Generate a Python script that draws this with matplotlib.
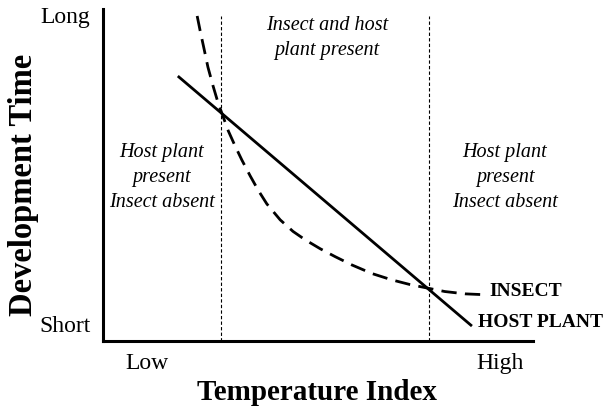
import matplotlib
matplotlib.use("Agg")
import matplotlib.pyplot as plt

plt.rcParams['font.family'] = ['Liberation Serif', 'DejaVu Serif']

# Data (in arbitrary 0-10 units)
insect_x = [2.19, 2.26, 2.35, 2.44, 2.56, 2.67, 2.77, 2.91, 3.07, 3.23, 3.42, 3.61, 3.81,
            4.12, 4.42, 4.70, 5.05, 5.40, 5.79, 6.26, 6.72, 7.14, 7.56, 7.95, 8.42, 8.95]
insect_y = [9.79, 9.34, 8.80, 8.25, 7.68, 7.20, 6.84, 6.34, 5.88, 5.45, 4.98, 4.54, 4.13,
            3.65, 3.30, 3.05, 2.78, 2.54, 2.29, 2.03, 1.84, 1.70, 1.59, 1.49, 1.42, 1.39]
plant_x = [1.74, 8.58]
plant_y = [7.98, 0.45]
boundaries = [2.74, 7.58]
ytick_pos = [0.54, 9.85]
ytick_labels = ['Short', 'Long']
xtick_pos = [1.02, 9.23]
xtick_labels = ['Low', 'High']

W, H = 613, 414
fig = plt.figure(figsize=(W / 100, H / 100), dpi=100)
ax = fig.add_axes([103 / W, (H - 342) / H, 430 / W, 332 / H])
ax.set_xlim(0, 10)
ax.set_ylim(0, 10)

for s in ['top', 'right']:
    ax.spines[s].set_visible(False)
for s in ['left', 'bottom']:
    ax.spines[s].set_linewidth(2.2)

ax.plot(insect_x, insect_y, color='black', lw=2.0, ls=(0, (5.5, 3)), clip_on=False)
ax.plot(plant_x, plant_y, color='black', lw=2.0, solid_capstyle='butt', clip_on=False)
for b in boundaries:
    ax.plot([b, b], [0, 9.8], color='black', lw=0.8, ls=(0, (3, 2)))

ax.set_yticks(ytick_pos, ytick_labels, fontsize=17)
ax.set_xticks(xtick_pos, xtick_labels, fontsize=17)
ax.tick_params(axis='both', length=0)
ax.tick_params(axis='y', pad=9)
ax.tick_params(axis='x', pad=8)

ax.set_xlabel('Temperature Index', fontsize=21, fontweight='bold')
ax.set_ylabel('Development Time', fontsize=23.5, fontweight='bold')
ax.xaxis.set_label_coords(0.498, -0.151)
ax.yaxis.set_label_coords(-0.184, 0.473)
ax.xaxis.label.set_va('center')
ax.yaxis.label.set_va('center')

it = dict(fontsize=14.5, style='italic', ha='center', va='center', linespacing=1.45)
ax.text(5.21, 9.16, 'Insect and host\nplant present', **it)
ax.text(1.37, 4.96, 'Host plant\npresent\nInsect absent', **it)
ax.text(9.35, 4.96, 'Host plant\npresent\nInsect absent', **it)

ax.text(8.99, 1.52, 'INSECT', fontsize=14, fontweight='bold', ha='left', va='center', clip_on=False)
ax.text(8.73, 0.58, 'HOST PLANT', fontsize=14, fontweight='bold', ha='left', va='center', clip_on=False)

fig.savefig('out.png', dpi=100)
